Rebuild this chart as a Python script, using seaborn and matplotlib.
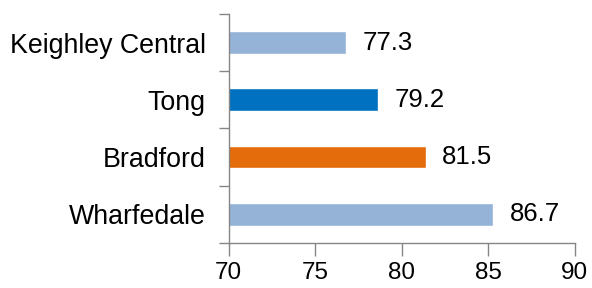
import matplotlib
matplotlib.use("Agg")
import matplotlib.pyplot as plt
import pandas as pd
import seaborn as sns

# wards and values shown on the labels
wards = ["Keighley Central", "Tong", "Bradford", "Wharfedale"]
values = [77.3, 79.2, 81.5, 86.7]
# bar lengths as drawn in the source picture
bar_lengths = [76.8, 78.65, 81.4, 85.3]
colors = ["#95B3D7", "#0070C0", "#E46C0A", "#95B3D7"]
x_ticks = [70, 75, 80, 85, 90]

df = pd.DataFrame({"ward": wards, "length": bar_lengths})

sns.set_style("white")
plt.rcParams["font.family"] = ["Liberation Sans", "DejaVu Sans"]

fig = plt.figure(figsize=(5.92, 2.88), dpi=100)
ax = fig.add_axes([0.386, 0.157, 0.585, 0.794])

sns.barplot(data=df, x="length", y="ward", hue="ward", palette=colors,
            orient="h", width=0.4, legend=False, ax=ax, saturation=1)

ax.set_xlim(70, 90)
ax.set_ylim(3.5, -0.5)
ax.set_xlabel("")
ax.set_ylabel("")

grey = "#868686"
for s in ["top", "right"]:
    ax.spines[s].set_visible(False)
for s in ["left", "bottom"]:
    ax.spines[s].set_color(grey)
    ax.spines[s].set_linewidth(1.0)

ax.set_xticks(x_ticks)
ax.set_xticklabels([str(t) for t in x_ticks])
ax.tick_params(axis="x", length=9, width=1, color=grey, labelsize=17.5, pad=5,
               direction="out", bottom=True, labelcolor="black")

ax.set_yticks([-0.5, 0.5, 1.5, 2.5, 3.5])
ax.set_yticklabels([])
ax.set_yticks(range(len(wards)), labels=wards, minor=True)
ax.tick_params(axis="y", which="major", length=7, width=1, color=grey,
               direction="out", left=True)
ax.tick_params(axis="y", which="minor", length=0, labelsize=19.3, pad=16.5,
               left=True, labelcolor="black")

for i, (L, v) in enumerate(zip(bar_lengths, values)):
    ax.annotate(f"{v:.1f}", xy=(L, i), xytext=(11.5, 0), textcoords="offset points",
                va="center", ha="left", fontsize=18.5, color="black",
                annotation_clip=False)

fig.savefig("out.png", dpi=100)
plt.close(fig)
